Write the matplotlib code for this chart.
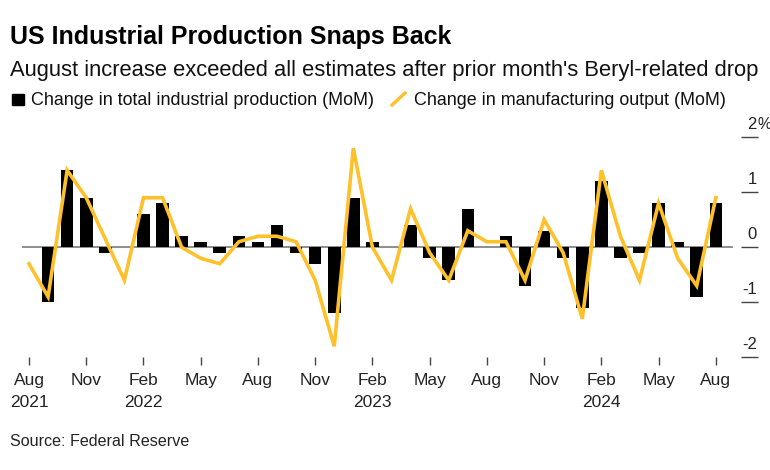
import matplotlib.pyplot as plt
import matplotlib.transforms as mtransforms
from matplotlib.lines import Line2D
from matplotlib.patches import Rectangle

plt.rcParams['font.family'] = ['Liberation Sans', 'DejaVu Sans']

# monthly, Aug 2021 .. Aug 2024
total_ip = [0.0, -1.0, 1.4, 0.9, -0.1, 0.0, 0.6, 0.8, 0.2, 0.1, -0.1, 0.2,
            0.1, 0.4, -0.1, -0.3, -1.2, 0.9, 0.1, 0.0, 0.4, -0.2, -0.6, 0.7,
            0.0, 0.2, -0.7, 0.3, -0.2, -1.1, 1.2, -0.2, -0.1, 0.8, 0.1, -0.9, 0.8]
manufacturing = [-0.3, -0.9, 1.4, 0.9, 0.15, -0.6, 0.9, 0.9, 0.0, -0.2, -0.3, 0.1,
                 0.2, 0.2, 0.1, -0.6, -1.8, 1.8, 0.0, -0.6, 0.7, -0.1, -0.6, 0.3,
                 0.1, 0.1, -0.6, 0.5, -0.1, -1.3, 1.4, 0.2, -0.6, 0.8, -0.2, -0.7, 0.9]
tick_months = ['Aug', 'Nov', 'Feb', 'May'] * 3 + ['Aug']
tick_years = {0: '2021', 2: '2022', 6: '2023', 10: '2024'}
y_ticks = [-2, -1, 0, 1, 2]

YELLOW = '#FFC12B'

fig = plt.figure(figsize=(7.7, 4.7), dpi=100)
W, H = 770, 470
ax = fig.add_axes([22 / W, (H - 357.3) / H, 719 / W, 231.1 / H])

x = list(range(len(total_ip)))
ax.bar(x, total_ip, width=0.66, color='black', zorder=2)
ax.plot(x, manufacturing, color=YELLOW, lw=2.6, zorder=3, solid_joinstyle='miter')
ax.axhline(0, xmin=0, xmax=710 / 719, color='#7a7a7a', lw=1.2, zorder=1)

ax.set_xlim(-0.367, 37.32)
ax.set_ylim(-2, 2.2)
for s in ax.spines.values():
    s.set_visible(False)

ticks = list(range(0, len(total_ip), 3))
labels = []
for k, m in enumerate(tick_months):
    labels.append(m + ('\n' + tick_years[k] if k in tick_years else '\n'))
ax.set_xticks(ticks)
ax.set_xticklabels(labels, fontsize=12.5, linespacing=1.65, color='#222222')
ax.tick_params(axis='x', length=6, width=1, color='#444444', pad=5)

ax.set_yticks(y_ticks)
ax.yaxis.tick_right()
ax.tick_params(axis='y', length=12.2, width=1, color='#444444', labelright=False)
ytrans = mtransforms.blended_transform_factory(ax.transAxes, ax.transData)
shift = mtransforms.ScaledTranslation(0, 0.05, fig.dpi_scale_trans)
for v in y_ticks:
    ax.text(1 + 16 / 719, v, str(v), transform=ytrans + shift,
            ha='right', va='bottom', fontsize=12, color='#222222')
    if v == y_ticks[-1]:
        ax.text(1 + 16 / 719, v, '%', transform=ytrans + shift,
                ha='left', va='bottom', fontsize=11.3, color='#222222')

fig.text(10 / W, 1 - 44 / H, 'US Industrial Production Snaps Back', fontsize=18,
         fontweight='bold', va='baseline', ha='left')
fig.text(10 / W, 1 - 76 / H, "August increase exceeded all estimates after prior month's Beryl-related drop",
         fontsize=15.8, va='baseline', ha='left', color='#111111')

# legend
fig.patches.append(Rectangle((12 / W, 1 - 105 / H), 12 / W, 11 / H, transform=fig.transFigure,
                             color='black'))
fig.text(31 / W, 1 - 105.3 / H, 'Change in total industrial production (MoM)', fontsize=12.9,
         va='baseline', ha='left', color='#111111')
fig.lines.append(Line2D([392 / W, 405 / W], [1 - 105 / H, 1 - 93 / H], transform=fig.transFigure,
                        color=YELLOW, lw=2.4))
fig.text(414 / W, 1 - 105.3 / H, 'Change in manufacturing output (MoM)', fontsize=12.9,
         va='baseline', ha='left', color='#111111')

fig.text(10 / W, 1 - 446 / H, 'Source: Federal Reserve', fontsize=11.6, va='baseline', ha='left',
         color='#222222')

fig.savefig('out.png', dpi=100)
